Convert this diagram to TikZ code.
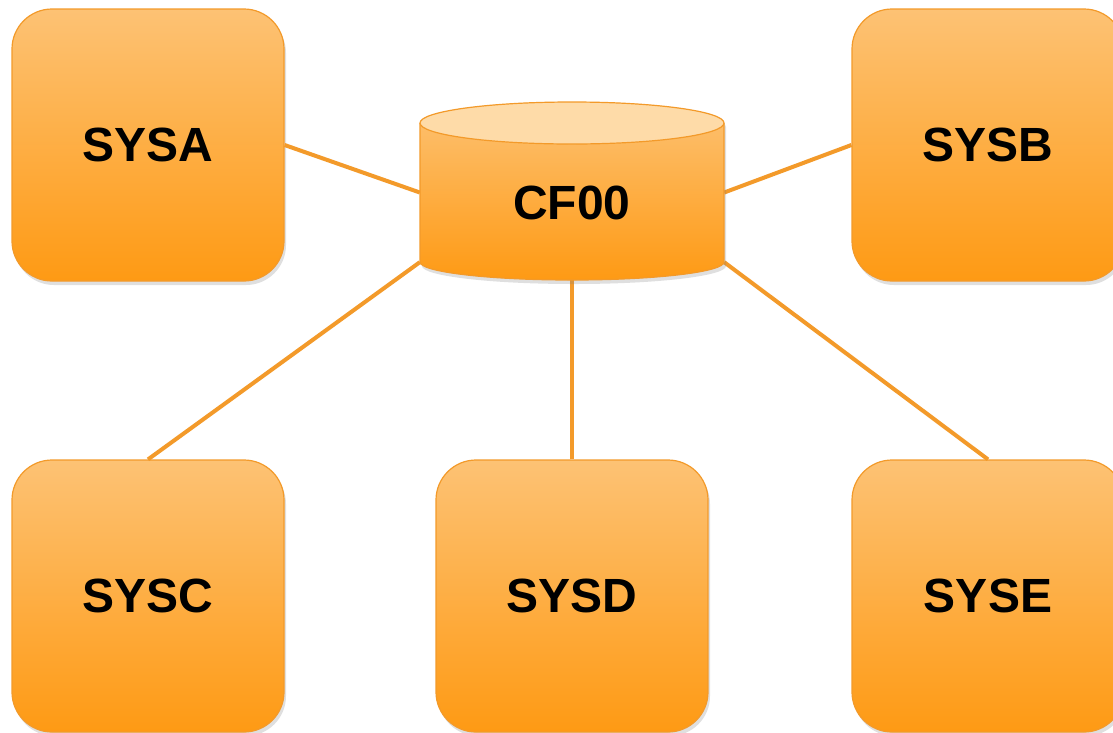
\documentclass[tikz,border=0pt]{standalone}
\usepackage{fontspec}
\setmainfont{Liberation Sans}
\usetikzlibrary{shadows}
\definecolor{boxTop}{HTML}{FDC274}
\definecolor{boxBot}{HTML}{FE9A14}
\definecolor{boxLine}{HTML}{F39A2A}
\definecolor{cfTop}{HTML}{FEDBA8}
\tikzset{
  sysbox/.style={draw=boxLine, line width=1.2pt, top color=boxTop, bottom color=boxBot,
    rounded corners=40pt, minimum width=272pt, minimum height=272pt, inner sep=0pt,
    font=\fontsize{48}{56}\selectfont\bfseries,
    drop shadow={opacity=0.25, shadow xshift=2pt, shadow yshift=-4pt}},
  link/.style={draw=boxLine, line width=4pt},
  cfframe/.style={minimum width=304pt, minimum height=139pt, inner sep=0pt,
    font=\fontsize{48}{56}\selectfont\bfseries}
}
\begin{document}
\begin{tikzpicture}[x=1pt,y=1pt]
\useasboundingbox (0,0) rectangle (1113,-732);
\clip (0,0) rectangle (1113,-732);
\fill[white] (0,0) rectangle (1113,-732);
% invisible frame for the cylinder
\node[cfframe] (cf) at (572,-192.5) {};
\node[sysbox] (sysa) at (148,-145) {};
\node[sysbox] (sysb) at (988,-145) {};
\node[sysbox] (sysc) at (148,-596) {};
\node[sysbox] (sysd) at (572,-596) {};
\node[sysbox] (syse) at (988,-596) {};
% connectors (behind the boxes' text)
\draw[link] (sysa.east) -- (cf.west);
\draw[link] (sysb.west) -- (cf.east);
\draw[link] (sysc.north) -- (cf.south west);
\draw[link] (sysd.north) -- (cf.south);
\draw[link] (syse.north) -- (cf.south east);
% cylinder
\shade[top color=boxTop, bottom color=boxBot, drop shadow={opacity=0.25, shadow xshift=2pt, shadow yshift=-4pt}]
  (420,-123) -- (420,-262) arc[start angle=180, end angle=360, x radius=152, y radius=18]
  -- (724,-123) arc[start angle=0, end angle=180, x radius=152, y radius=21] -- cycle;
\draw[boxLine, line width=1.2pt]
  (420,-123) -- (420,-262) arc[start angle=180, end angle=360, x radius=152, y radius=18]
  -- (724,-123);
\draw[boxLine, line width=1.2pt, fill=cfTop] (572,-123) ellipse[x radius=152, y radius=21];
% labels
\node[font=\fontsize{48}{56}\selectfont\bfseries] at ([yshift=-10pt]cf.center) {CF00};
\node[font=\fontsize{48}{56}\selectfont\bfseries] at (sysa) {SYSA};
\node[font=\fontsize{48}{56}\selectfont\bfseries] at (sysb.center) {SYSB};
\node[font=\fontsize{48}{56}\selectfont\bfseries] at (sysc.center) {SYSC};
\node[font=\fontsize{48}{56}\selectfont\bfseries] at (sysd.center) {SYSD};
\node[font=\fontsize{48}{56}\selectfont\bfseries] at (syse.center) {SYSE};
\end{tikzpicture}
\end{document}
